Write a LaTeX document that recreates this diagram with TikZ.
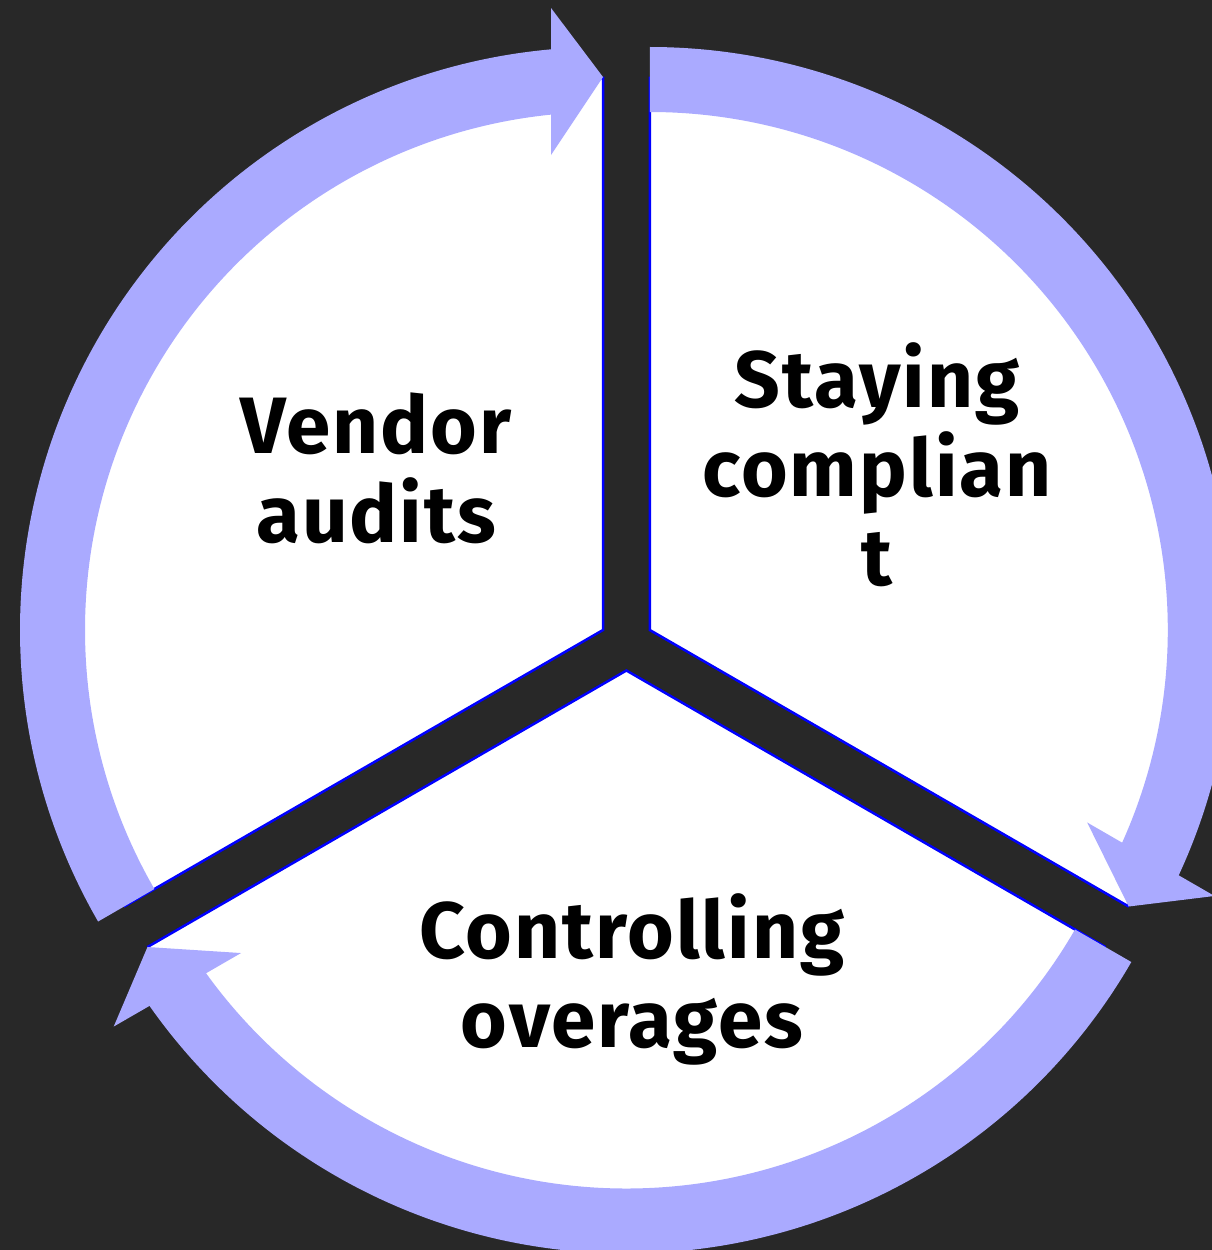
\documentclass[tikz,border=0pt]{standalone}
\usepackage{fontspec}
\setmainfont{Fira Sans}
\newfontfamily\lblfont{Fira Sans}[LetterSpace=2.5]
\begin{document}
\begin{tikzpicture}[x=1pt,y=1pt]
\definecolor{bg}{HTML}{282828}
\definecolor{lav}{HTML}{AAAAFF}
\definecolor{edgeblue}{HTML}{0000FF}
\tikzset{
  wedge/.style={fill=white, draw=edgeblue, line width=2.5pt, line join=miter},
  band/.style={fill=lav},
  lbl/.style={font=\lblfont\bfseries\fontsize{80}{89}\selectfont, align=center, text=black, anchor=base, inner sep=0pt},
  sector/.pic={
    \draw[wedge] (0,0) -- (0:552) arc[start angle=0, end angle=120, radius=552] -- cycle;
    \fill[band] (5:583) arc[start angle=5, end angle=120, radius=583]
      -- (120:518) arc[start angle=120, end angle=5, radius=518] -- cycle;
    \fill[band] (553,0) -- (475,52) -- (622,52) -- cycle;
  }
}
\clip (0,0) rectangle (1212,-1250);
\fill[bg] (0,0) rectangle (1212,-1250);

\pic[rotate=90] at (603,-630) {sector};
\pic[rotate=-30] at (649.8,-630) {sector};
\pic[rotate=210] at (626.4,-670.5) {sector};

\node[lbl] (vendor) at (376,-542) {Vendor\\audits};
\node[lbl] (staying) at (877,-585) {Staying\\complian\\t};
\node[lbl] (controlling) at (632,-1047) {Controlling\\overages};
\end{tikzpicture}
\end{document}
